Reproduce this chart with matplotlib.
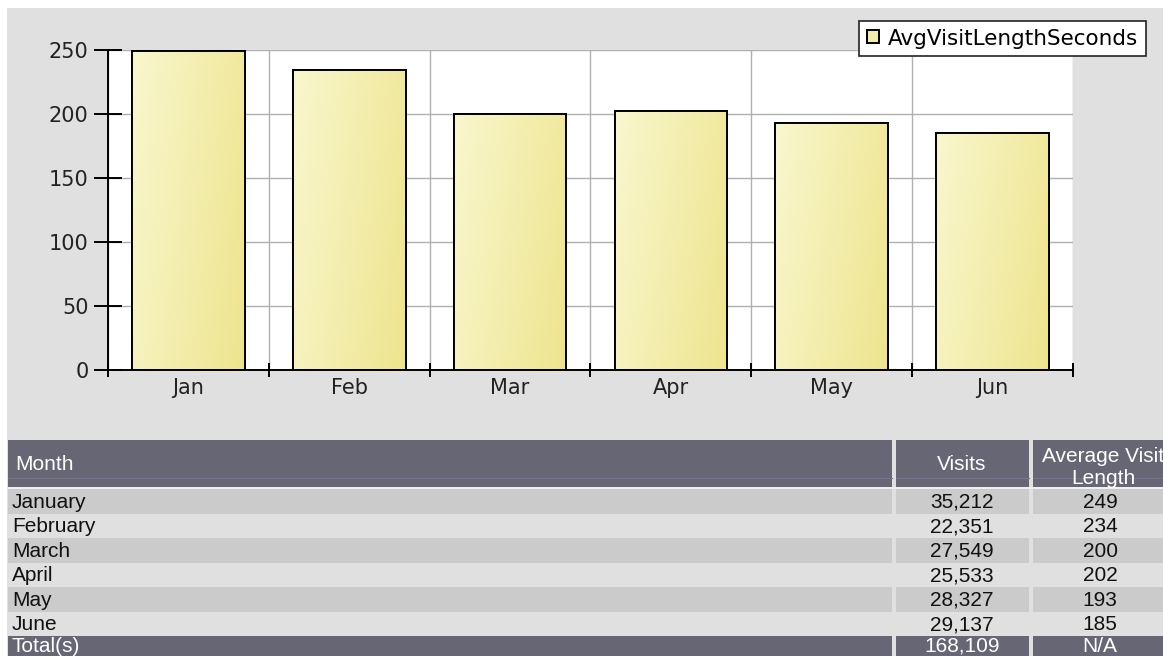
import numpy as np
import matplotlib
matplotlib.use("Agg")
import matplotlib.pyplot as plt
from matplotlib.patches import Rectangle

# === data ===
months_short = ["Jan", "Feb", "Mar", "Apr", "May", "Jun"]
months_long = ["January", "February", "March", "April", "May", "June"]
avg_visit_len = [249, 234, 200, 202, 193, 185]
visits = [35212, 22351, 27549, 25533, 28327, 29137]
total_visits = 168109
series_name = "AvgVisitLengthSeconds"
y_ticks = [0, 50, 100, 150, 200, 250]

W, H = 1163, 656
BG = "#e0e0e0"
HEAD = "#666675"
DARK_ROW = "#cbcbcb"

fig = plt.figure(figsize=(W / 100, H / 100), dpi=100, facecolor="white")

# --- background / table layer in pixel coords ---
bg = fig.add_axes([0, 0, 1, 1], zorder=0)
bg.set_xlim(0, W)
bg.set_ylim(H, 0)
bg.axis("off")
bg.add_patch(Rectangle((7, 8), W - 7, H - 8, color=BG, lw=0))

# table columns (x0, x1) and row geometry
cols = [(8, 892), (896, 1029), (1033, W + 5)]
head_top, head_bot = 440, 487
row_top, row_h = 489, 24.5
fs_tab = 15
tab_font = "Liberation Sans"

for x0, x1 in cols:
    bg.add_patch(Rectangle((x0, head_top), x1 - x0, head_bot - head_top, color=HEAD, lw=0))
    bg.plot([x0, x1], [478, 478], color="#74748a", lw=0.8)
bg.add_patch(Rectangle((8, head_bot), W, row_top - head_bot, color="#efefef", lw=0))

bg.text(15, 464, "Month", color="white", fontsize=fs_tab, family=tab_font, va="center", ha="left")
bg.text(962, 465, "Visits", color="white", fontsize=fs_tab, family=tab_font, va="center", ha="center")
bg.text(1103, 467, "Average Visit\nLength", color="white", fontsize=fs_tab, family=tab_font,
        va="center", ha="center", linespacing=1.2)

for i, (name, v, a) in enumerate(zip(months_long, visits, avg_visit_len)):
    y0 = row_top + i * row_h
    if i % 2 == 0:
        for x0, x1 in cols:
            bg.add_patch(Rectangle((x0, y0), x1 - x0, row_h, color=DARK_ROW, lw=0))
    yc = y0 + row_h / 2 + 1
    bg.text(12, yc, name, fontsize=fs_tab, family=tab_font, va="center", ha="left", color="#111111")
    bg.text(962, yc, f"{v:,}", fontsize=fs_tab, family=tab_font, va="center", ha="center", color="#111111")
    bg.text(1100, yc, f"{a}", fontsize=fs_tab, family=tab_font, va="center", ha="center", color="#111111")

# totals row (sits at the bottom edge, as in the original page)
y_tot = row_top + 6 * row_h
for x0, x1 in cols:
    bg.add_patch(Rectangle((x0, y_tot), x1 - x0, H - y_tot + 5, color=HEAD, lw=0))
yc = y_tot + row_h / 2 - 2
bg.text(12, yc, "Total(s)", fontsize=fs_tab, family=tab_font, va="center", ha="left", color="white")
bg.text(962, yc, f"{total_visits:,}", fontsize=fs_tab, family=tab_font, va="center", ha="center", color="white")
bg.text(1100, yc, "N/A", fontsize=fs_tab, family=tab_font, va="center", ha="center", color="white")

# --- bar chart ---
ax = fig.add_axes([108 / W, 1 - 370 / H, 965 / W, 320 / H], zorder=1)
ax.set_facecolor("white")
x = np.arange(len(months_short))
bw = 0.7

bars = ax.bar(x, avg_visit_len, width=bw, color="#f3eeaa", edgecolor="black", lw=1.4,
              zorder=3, label=series_name)

# gradient fill clipped to each bar
gx, gy = np.meshgrid(np.linspace(0, 1, 64), np.linspace(0, 1, 64))
t = 0.75 * gx + 0.25 * (1 - gy)
c0 = np.array([249, 247, 206]) / 255.0
c1 = np.array([238, 228, 142]) / 255.0
grad = c0[None, None, :] * (1 - t[..., None]) + c1[None, None, :] * t[..., None]
for b in bars:
    im = ax.imshow(grad, extent=[b.get_x(), b.get_x() + b.get_width(), 0, b.get_height()],
                   aspect="auto", origin="lower", zorder=3.5, interpolation="bilinear")
    im.set_clip_path(b)
ax.bar(x, avg_visit_len, width=bw, color="none", edgecolor="black", lw=1.4, zorder=4)

ax.set_xlim(-0.5, len(x) - 0.5)
ax.set_ylim(0, 250)
ax.set_aspect("auto")

# grid
for yy in y_ticks[1:]:
    ax.axhline(yy, color="#b0b0b0", lw=1, zorder=1)
for xb in np.arange(-0.5, len(x), 1.0):
    ax.axvline(xb, color="#b0b0b0", lw=1, zorder=1)

ax.spines["top"].set_visible(False)
ax.spines["right"].set_visible(False)
for side in ["left", "bottom"]:
    ax.spines[side].set_color("black")
    ax.spines[side].set_linewidth(1.4)
    ax.spines[side].set_zorder(5)

ax.set_yticks(y_ticks)
ax.tick_params(axis="y", direction="inout", length=20, width=1.4, pad=4,
               labelsize=15, labelcolor="#222222")
ax.set_xticks(np.arange(-0.5, len(x), 1.0))
ax.set_xticklabels([""] * (len(x) + 1))
ax.tick_params(axis="x", which="major", direction="inout", length=10, width=1.4)
ax.set_xticks(x, minor=True)
ax.set_xticklabels(months_short, minor=True)
ax.tick_params(axis="x", which="minor", length=0, pad=6, labelsize=15, labelcolor="#222222")

leg = ax.legend(loc="upper right", bbox_to_anchor=(1146 / W, 1 - 21 / H), bbox_transform=fig.transFigure,
                borderaxespad=0, fancybox=False, framealpha=1, edgecolor="#222222",
                fontsize=15.5, handlelength=0.55, handleheight=0.55, handletextpad=0.45,
                borderpad=0.35)
leg.get_frame().set_linewidth(1.2)
leg.set_zorder(10)

fig.savefig("out.png", dpi=100, facecolor=fig.get_facecolor())
